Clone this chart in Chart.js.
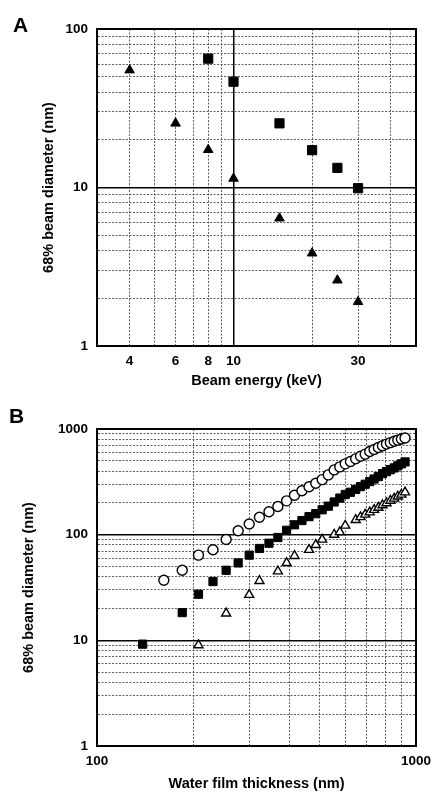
<!DOCTYPE html>
<html>
<head>
<meta charset="utf-8">
<script src="https://cdn.jsdelivr.net/npm/chart.js@4.4.1/dist/chart.umd.min.js"></script>
<style>
  html, body { margin: 0; padding: 0; background: #fff; }
  .panel { position: relative; width: 433px; height: 400px; }
  .panel canvas { display: block; }
  .letter { position: absolute; font: bold 21px "Liberation Sans", Arial, sans-serif; line-height: 21px; color: #000; }
</style>
</head>
<body>
<div class="panel"><div class="letter" style="left:13px;top:14px">A</div><canvas id="chartA" width="433" height="400"></canvas></div>
<div class="panel"><div class="letter" style="left:9px;top:5px">B</div><canvas id="chartB" width="433" height="400"></canvas></div>
<script>
// panel A: beam diameter vs beam energy
const energyKeV = [4, 6, 8, 10, 15, 20, 25, 30];
const diamTriangleA = [55, 25.4, 17.3, 11.4, 6.4, 3.85, 2.6, 1.9];
const diamSquareA = [null, null, 65, 46.5, 25.4, 17.2, 13.3, 9.9];
const energyGrid = [4, 5, 6, 7, 8, 9, 10, 20, 30, 40];
const energyLabels = [4, 6, 8, 10, 30];
const diamGridA = [1, 2, 3, 4, 5, 6, 7, 8, 9, 10, 20, 30, 40, 50, 60, 70, 80, 90, 100];
const diamLabelsA = [1, 10, 100];

// panel B: beam diameter vs water film thickness
const thicknessNm = [139, 162, 185, 208, 231, 254, 277, 300, 323, 346, 369, 393, 416, 439, 462, 485, 508, 531,
  554, 577, 600, 623, 647, 670, 693, 716, 739, 762, 785, 808, 831, 854, 877, 900, 924];
const diamCircleB = [null, 37, 46, 64, 72, 90, 109, 126, 146, 165, 185, 209, 236, 260, 284, 307, 332, 368,
  410, 438, 468, 493, 522, 553, 578, 612, 640, 668, 695, 720, 743, 765, 785, 805, 821];
const diamSquareB = [9.2, null, 18.3, 27.3, 36, 46, 54, 64, 74, 83, 94, 110, 124, 136, 148, 158, 172, 186,
  204, 222, 240, 252, 268, 285, 300, 318, 336, 355, 378, 395, 412, 428, 448, 468, 488];
const diamTriangleB = [null, null, null, 9, null, 18, null, 27, 36.5, null, 45, 54, 63, null, 72, 80, 90, null,
  100, 106, 122, null, 138, 147, 155, 163, 172, 180, 190, 199, 210, 220, 230, 240, 252];
const thicknessGrid = [100, 200, 300, 400, 500, 600, 700, 800, 900, 1000];
const thicknessLabels = [100, 1000];
const diamGridB = [1, 2, 3, 4, 5, 6, 7, 8, 9, 10, 20, 30, 40, 50, 60, 70, 80, 90,
  100, 200, 300, 400, 500, 600, 700, 800, 900, 1000];
const diamLabelsB = [1, 10, 100, 1000];

Chart.defaults.font.family = '"Liberation Sans", Arial, sans-serif';
Chart.defaults.font.weight = 'bold';
Chart.defaults.color = '#000';

function points(xs, ys) {
  return xs.map((x, i) => ({ x: x, y: ys[i] })).filter(p => p.y != null);
}

const framePlugin = {
  id: 'frame',
  beforeDatasetsDraw(chart) {
    const a = chart.chartArea;
    const ctx = chart.ctx;
    ctx.save();
    ctx.strokeStyle = '#000';
    ctx.lineWidth = 2;
    ctx.strokeRect(a.left, a.top, a.right - a.left, a.bottom - a.top);
    ctx.restore();
  }
};

function logAxis(o) {
  const isMajor = c => c.tick && o.major.includes(c.tick.value);
  return {
    type: 'logarithmic',
    position: o.position,
    min: o.min,
    max: o.max,
    afterBuildTicks: axis => { axis.ticks = o.grid.map(v => ({ value: v })); },
    afterFit: axis => {
      // fixed plot box: left 97, right 416, top 29, bottom 346
      if (o.position === 'left') {
        axis.width = 97;
        axis.paddingTop = 0;
        axis.paddingBottom = 0;
      } else {
        axis.height = 54;
        axis.paddingLeft = 0;
        axis.paddingRight = 0;
      }
    },
    grid: {
      drawTicks: false,
      color: c => isMajor(c) ? '#000' : '#4d4d4d',
      lineWidth: c => isMajor(c) ? 1.5 : 0.9
    },
    border: {
      display: true,
      color: '#000',
      width: 2,
      dash: c => isMajor(c) ? [] : [2, 1.5]
    },
    ticks: {
      autoSkip: false,
      maxRotation: 0,
      padding: o.tickPad,
      font: { size: 13.5, weight: 'bold' },
      callback: v => o.labels.includes(v) ? String(v) : ''
    },
    title: {
      display: true,
      text: o.title,
      font: { size: 14.5, weight: 'bold' },
      padding: o.titlePad
    }
  };
}

function baseOptions(xAxis, yAxis) {
  return {
    responsive: false,
    animation: false,
    layout: { padding: { top: 29, right: 17, left: 0, bottom: 0 } },
    plugins: { legend: { display: false }, tooltip: { enabled: false } },
    scales: { x: xAxis, y: yAxis }
  };
}

new Chart(document.getElementById('chartA'), {
  type: 'scatter',
  data: {
    datasets: [
      { data: points(energyKeV, diamTriangleA), pointStyle: 'triangle', pointRadius: 5.5,
        backgroundColor: '#000', borderColor: '#000', borderWidth: 1 },
      { data: points(energyKeV, diamSquareA), pointStyle: 'rect', pointRadius: 6.5,
        backgroundColor: '#000', borderColor: '#000', borderWidth: 1 }
    ]
  },
  options: baseOptions(
    logAxis({ position: 'bottom', min: 3, max: 50, grid: energyGrid, labels: energyLabels, major: [10],
      tickPad: 7, title: 'Beam energy (keV)', titlePad: { top: 0, bottom: 10 } }),
    logAxis({ position: 'left', min: 1, max: 100, grid: diamGridA, labels: diamLabelsA, major: [10],
      tickPad: 9, title: '68% beam diameter (nm)', titlePad: { top: 40, bottom: 0 } })
  ),
  plugins: [framePlugin]
});

new Chart(document.getElementById('chartB'), {
  type: 'scatter',
  data: {
    datasets: [
      { data: points(thicknessNm, diamCircleB), pointStyle: 'circle', pointRadius: 5,
        backgroundColor: '#fff', borderColor: '#000', borderWidth: 1.4 },
      { data: points(thicknessNm, diamSquareB), pointStyle: 'rect', pointRadius: 5.8,
        backgroundColor: '#000', borderColor: '#000', borderWidth: 1 },
      { data: points(thicknessNm, diamTriangleB), pointStyle: 'triangle', pointRadius: 5.2,
        backgroundColor: '#fff', borderColor: '#000', borderWidth: 1.4 }
    ]
  },
  options: baseOptions(
    logAxis({ position: 'bottom', min: 100, max: 1000, grid: thicknessGrid, labels: thicknessLabels, major: [],
      tickPad: 7, title: 'Water film thickness (nm)', titlePad: { top: 0, bottom: 7 } }),
    logAxis({ position: 'left', min: 1, max: 1000, grid: diamGridB, labels: diamLabelsB, major: [10, 100],
      tickPad: 9, title: '68% beam diameter (nm)', titlePad: { top: 20, bottom: 0 } })
  ),
  plugins: [framePlugin]
});
</script>
</body>
</html>
